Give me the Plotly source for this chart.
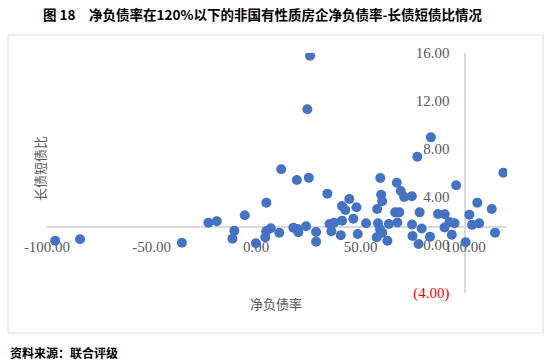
import plotly.graph_objects as go

# ---- data ----
net_debt_ratio = [
    -96.1, -84.2, -35.5, -22.8, -18.8, -10.4, -11.3, -5.4, -0.1, 4.9,
    4.8, 7.0, 4.4, 11.1, 12.0, 19.5, 25.2, 25.8, 24.5, 17.8,
    19.8, 20.2, 23.9, 28.7, 28.7, 34.1, 35.1, 37.3, 36.0, 41.1,
    40.5, 41.1, 42.7, 44.6, 48.0, 46.5, 48.6, 52.6, 57.9, 59.4,
    59.8, 60.3, 58.3, 59.3, 60.3, 57.7, 63.5, 62.8, 67.3, 69.2,
    70.8, 74.5, 66.5, 68.5, 67.6, 77.1, 74.6, 74.8, 78.2, 79.2,
    83.2, 77.7, 83.6, 87.0, 90.2, 90.1, 92.5, 94.9, 93.6, 95.7,
    100.2, 102.0, 103.3, 106.7, 105.8, 112.7, 114.3, 118.3,
]
lt_st_debt_ratio = [
    0.36, 0.48, 0.19, 1.86, 1.98, 1.19, 0.53, 2.48, 0.14, 3.53,
    1.14, 1.39, 0.64, 1.03, 6.31, 5.42, 5.61, 15.78, 11.31, 1.44,
    1.33, 1.06, 1.56, 1.08, 0.28, 4.28, 1.75, 1.86, 1.14, 2.03,
    0.81, 3.25, 2.92, 3.83, 3.14, 2.19, 0.92, 1.81, 3.00, 5.58,
    4.19, 3.64, 1.81, 1.31, 1.03, 0.64, 1.75, 0.36, 5.19, 4.50,
    4.00, 4.06, 2.72, 2.72, 1.88, 7.36, 1.71, 0.75, 2.72, 1.38,
    0.69, 0.08, 8.97, 2.58, 2.56, 1.46, 1.92, 1.81, 0.86, 4.98,
    0.23, 2.53, 1.68, 1.81, 3.53, 3.00, 1.03, 6.03,
]

x_tick_vals = [-100, -50, 0, 50, 100]
x_tick_text = ["-100.00", "-50.00", "0.00", "50.00", "100.00"]
y_tick_vals = [-4, 0, 4, 8, 12, 16]
y_tick_text = ["<span style='color:#FF0000'>(4.00)</span>", "0.00", "4.00", "8.00", "12.00", "16.00"]

title_text = "图 18　净负债率在120%以下的非国有性质房企净负债率-长债短债比情况"
x_title = "净负债率"
y_title = "长债短债比"
source_text = "资料来源：联合评级"

# ---- layout geometry ----
W, H = 550, 363
X_RANGE = [-100, 120]
Y_RANGE = [-4, 16]
Y_AXIS_CROSS_X = 100     # vertical axis crosses at x = 100
X_AXIS_CROSS_Y = 1.5     # horizontal axis crosses at y = 1.5
xd = [47 / W, 507 / W]
yd = [1 - 293 / H, 1 - 53 / H]
y_axis_pos = xd[0] + (Y_AXIS_CROSS_X - X_RANGE[0]) / (X_RANGE[1] - X_RANGE[0]) * (xd[1] - xd[0])
x_axis_pos = yd[0] + (X_AXIS_CROSS_Y - Y_RANGE[0]) / (Y_RANGE[1] - Y_RANGE[0]) * (yd[1] - yd[0])

tick_font = dict(family="Liberation Serif, Times New Roman, serif", size=15, color="#595959")
cjk = "Noto Sans CJK SC, Noto Sans, sans-serif"

fig = go.Figure(go.Scatter(
    x=net_debt_ratio, y=lt_st_debt_ratio, mode="markers",
    marker=dict(color="#4472C4", size=10, line=dict(width=0)),
    hoverinfo="x+y",
))

fig.update_layout(
    width=W, height=H, autosize=False,
    margin=dict(l=0, r=0, t=0, b=0, pad=0, autoexpand=False),
    paper_bgcolor="white", plot_bgcolor="white",
    showlegend=False,
    xaxis=dict(
        domain=xd, range=X_RANGE, anchor="free", position=x_axis_pos,
        showgrid=False, zeroline=False, showline=True, automargin=False,
        linecolor="#D9D9D9", linewidth=1.5, layer="below traces",
        tickmode="array", tickvals=x_tick_vals, ticktext=x_tick_text,
        ticks="", tickfont=tick_font, ticklabelstandoff=6,
    ),
    yaxis=dict(
        domain=yd, range=Y_RANGE, anchor="free", position=y_axis_pos,
        showgrid=False, zeroline=False, showline=True, automargin=False,
        linecolor="#D9D9D9", linewidth=1.5, layer="below traces",
        tickmode="array", tickvals=y_tick_vals, ticktext=y_tick_text,
        ticks="", tickfont=tick_font, ticklabelstandoff=12,
    ),
    shapes=[dict(type="rect", xref="paper", yref="paper",
                 x0=8 / W, x1=543 / W, y0=1 - 333 / H, y1=1 - 35 / H,
                 line=dict(color="#D9D9D9", width=1), layer="below")],
    annotations=[
        dict(text="<b>" + title_text + "</b>", xref="paper", yref="paper",
             x=262 / W, y=1 - 14 / H, xanchor="center", yanchor="middle",
             showarrow=False, font=dict(family=cjk, size=13.5, color="#000000")),
        dict(text=x_title, xref="paper", yref="paper",
             x=276 / W, y=1 - 303 / H, xanchor="center", yanchor="middle",
             showarrow=False, font=dict(family=cjk, size=13, color="#595959")),
        dict(text=y_title, xref="paper", yref="paper", textangle=-90,
             x=40 / W, y=1 - 169 / H, xanchor="center", yanchor="middle",
             showarrow=False, font=dict(family=cjk, size=13, color="#595959")),
        dict(text="<b>" + source_text + "</b>", xref="paper", yref="paper",
             x=8 / W, y=1 - 352 / H, xanchor="left", yanchor="middle",
             showarrow=False, font=dict(family=cjk, size=12, color="#000000")),
    ],
)

fig.write_html(
    "out.html",
    config={"displayModeBar": False},
    post_script="document.body.style.margin='0';document.body.style.overflow='hidden';",
)
